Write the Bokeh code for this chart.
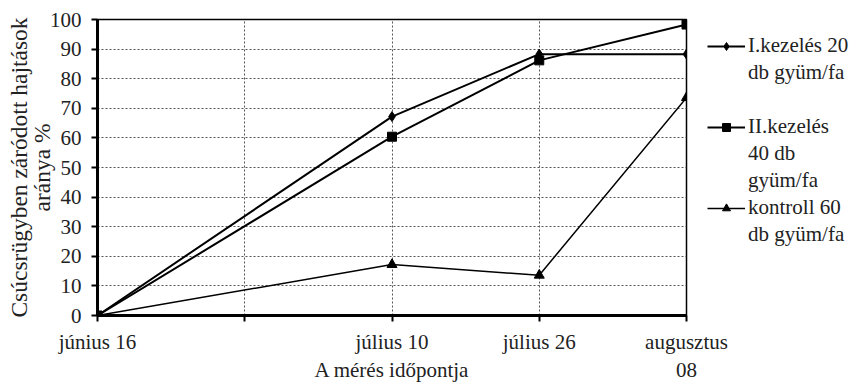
from bokeh.plotting import figure
from bokeh.models import FixedTicker, Legend, LegendItem, Range1d
from bokeh.embed import file_html
from bokeh.resources import INLINE

# ---- data ----
x_pos = [0, 2, 3, 4]
x_tick_labels = {0: "június 16", 1: "", 2: "július 10", 3: "július 26", 4: "augusztus\n08"}
s1_lines = ["I.kezelés 20", "db gyüm/fa"]
s1 = [0, 67.2, 88.3, 88.3]
s2_lines = ["II.kezelés", "40 db", "gyüm/fa"]
s2 = [0, 60.4, 86.2, 98.3]
s3_lines = ["kontroll 60", "db gyüm/fa"]
s3 = [0, 17.2, 13.6, 73.6]
y_ticks = list(range(0, 101, 10))
y_title = "Csúcsrügyben záródott hajtások\naránya %"
x_title = "A mérés időpontja"

FONT = "Liberation Serif"
TXT = "#222222"

p = figure(width=862, height=383, output_backend="svg", toolbar_location=None,
           x_range=Range1d(0, 4), y_range=Range1d(0, 100),
           min_border_left=97, min_border_right=176, min_border_top=19, min_border_bottom=68)
p.frame_width = 589
p.frame_height = 296

r1l = p.line(x_pos, s1, line_color="black", line_width=2)
r1m = p.scatter(x_pos, s1, marker="diamond", size=10, color="black")
r2l = p.line(x_pos, s2, line_color="black", line_width=2)
r2m = p.scatter(x_pos, s2, marker="square", size=9, color="black")
r3l = p.line(x_pos, s3, line_color="black", line_width=1.5)
r3m = p.scatter(x_pos, s3, marker="triangle", size=10, color="black")
blank = p.line([], [], line_alpha=0)

# axes
p.yaxis.ticker = FixedTicker(ticks=y_ticks)
p.xaxis.ticker = FixedTicker(ticks=[0, 1, 2, 3, 4])
p.xaxis.major_label_overrides = x_tick_labels
for ax in (p.xaxis[0], p.yaxis[0]):
    ax.axis_line_width = 3
    ax.axis_line_color = "black"
    ax.major_tick_line_color = "black"
    ax.major_tick_line_width = 2
    ax.major_tick_in = 0
    ax.major_tick_out = 6
    ax.minor_tick_line_color = None
    ax.major_label_text_font = FONT
    ax.major_label_text_font_size = "21px"
    ax.major_label_text_color = TXT
    ax.axis_label_text_font = FONT
    ax.axis_label_text_font_style = "normal"
    ax.axis_label_text_color = TXT
p.yaxis.major_label_standoff = 10
p.xaxis.major_label_standoff = 8

p.yaxis.axis_label = y_title
p.yaxis.axis_label_text_font_size = "23.5px"
p.yaxis.axis_label_text_line_height = 0.9
p.yaxis.axis_label_standoff = -8
p.xaxis.axis_label = x_title
p.xaxis.axis_label_text_font_size = "21px"
p.xaxis.axis_label_standoff = -27

p.xgrid.ticker = FixedTicker(ticks=[1, 2, 3])
p.ygrid.ticker = FixedTicker(ticks=y_ticks[1:-1])
for g in (p.xgrid[0], p.ygrid[0]):
    g.grid_line_color = "#555555"
    g.grid_line_dash = "2 2"
    g.grid_line_width = 1

p.outline_line_color = "black"
p.outline_line_width = 1.5
p.outline_line_alpha = 1
p.background_fill_color = "white"
p.border_fill_color = "white"

items = []
items.append(LegendItem(label=s1_lines[0], renderers=[r1l, r1m]))
for t in s1_lines[1:]:
    items.append(LegendItem(label=t, renderers=[blank]))
items.append(LegendItem(label=" ", renderers=[blank]))
items.append(LegendItem(label=s2_lines[0], renderers=[r2l, r2m]))
for t in s2_lines[1:]:
    items.append(LegendItem(label=t, renderers=[blank]))
items.append(LegendItem(label=s3_lines[0], renderers=[r3l, r3m]))
for t in s3_lines[1:]:
    items.append(LegendItem(label=t, renderers=[blank]))

legend = Legend(items=items, location=(21, 67))
legend.border_line_color = None
legend.background_fill_alpha = 0
legend.label_text_font = FONT
legend.label_text_font_size = "21px"
legend.label_text_color = TXT
legend.label_height = 27
legend.glyph_height = 20
legend.glyph_width = 38
legend.label_standoff = 3
legend.spacing = 0
legend.padding = 0
legend.margin = 0
p.add_layout(legend, "right")

open("out.html", "w").write(file_html(p, INLINE))
